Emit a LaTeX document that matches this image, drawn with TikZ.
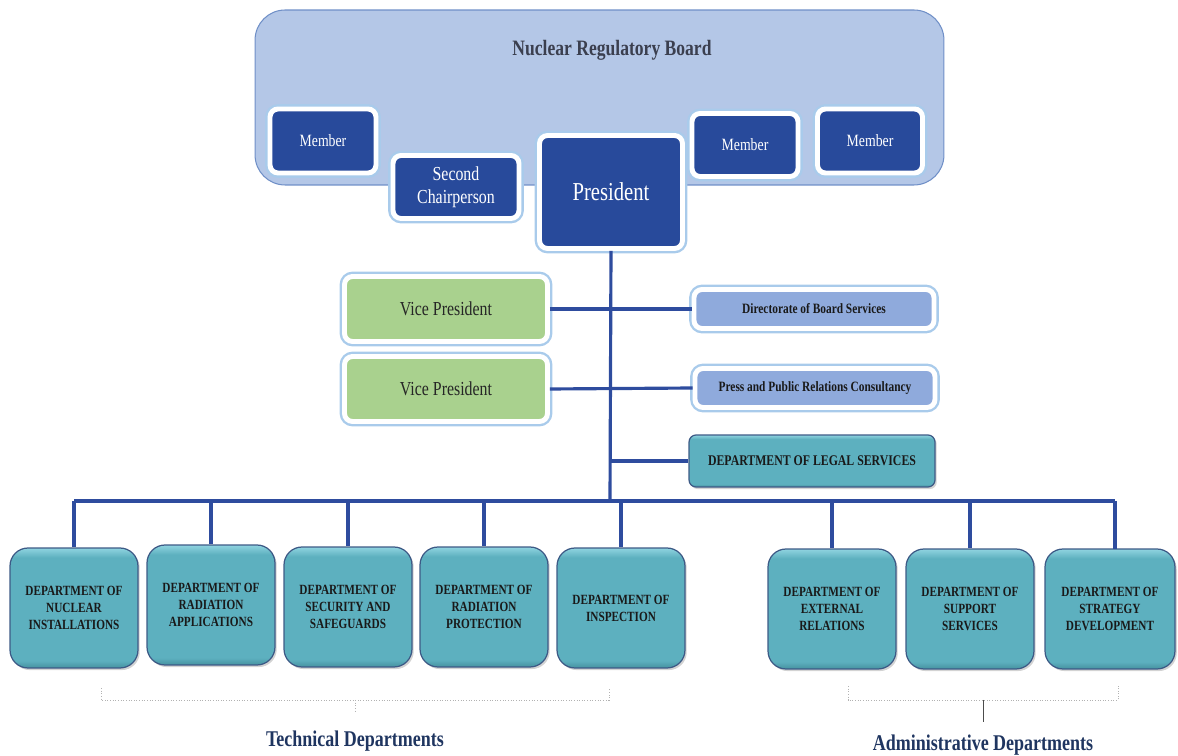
\documentclass[tikz,border=0pt]{standalone}
\usepackage{fontspec}
\setmainfont[FakeStretch=0.8]{Liberation Serif}
\usetikzlibrary{shadows}

\definecolor{boardfill}{HTML}{B4C7E7}
\definecolor{boardline}{HTML}{6F8FC7}
\definecolor{titlegray}{HTML}{3B3F4F}
\definecolor{navybox}{HTML}{284A9B}
\definecolor{glowblue}{HTML}{A9CBEB}
\definecolor{linkblue}{HTML}{2E4C9E}
\definecolor{vpgreen}{HTML}{A9D18E}
\definecolor{dirblue}{HTML}{8FAADC}
\definecolor{tealfill}{HTML}{5DB0BF}
\definecolor{tealtop}{HTML}{90D4E0}
\definecolor{tealbot}{HTML}{45919F}
\definecolor{tealedge}{HTML}{3D5A86}
\definecolor{labelnavy}{HTML}{1F3560}

% flat teal with a light top rim and a dark bottom rim
\pgfdeclareverticalshading{tealbevel}{100bp}{color(0bp)=(tealbot); color(25bp)=(tealbot);
  color(28bp)=(tealfill); color(71bp)=(tealfill); color(75bp)=(tealtop); color(100bp)=(tealtop)}

\begin{document}
\begin{tikzpicture}[x=0.02cm, y=-0.02cm,
    every node/.style={align=center, inner sep=0pt},
    board/.style={draw=boardline, fill=boardfill, line width=0.6pt, rounded corners=0.6cm},
    glowbox/.style={draw=white, line width=2.8pt, rounded corners=0.16cm,
        preaction={draw=glowblue, line width=5.5pt}},
    member/.style={glowbox, fill=navybox, text=white, minimum width=2.12cm, minimum height=1.28cm,
        font=\fontsize{9.8}{12}\selectfont},
    vicebox/.style={glowbox, fill=vpgreen, text=black!85, minimum width=4.06cm, minimum height=1.3cm,
        font=\fontsize{11.3}{13}\selectfont},
    unitbox/.style={glowbox, fill=dirblue, text=black!90, minimum width=4.8cm, minimum height=0.78cm,
        font=\fontsize{8.1}{10}\selectfont\bfseries},
    deptbox/.style={draw=tealedge, line width=0.7pt, rounded corners=0.36cm, shading=tealbevel,
        drop shadow={shadow xshift=1pt, shadow yshift=-1.2pt, opacity=0.35},
        text=black!90, minimum width=2.56cm, minimum height=2.4cm,
        font=\fontsize{8}{9.7}\selectfont\bfseries},
    link/.style={draw=linkblue, line width=1.8pt},
    bracket/.style={draw=gray!60, line width=0.5pt, densely dotted},
    grouplabel/.style={text=labelnavy, font=\fontsize{12.8}{15}\selectfont\bfseries}
  ]
  \useasboundingbox (0,0) rectangle (1178,756);

  % board
  \node [board, minimum width=13.78cm, minimum height=3.5cm] (board) at (599.5,97.5) {};
  \node [text=titlegray, font=\fontsize{12.5}{15}\selectfont\bfseries] (boardtitle) at (612,50) {Nuclear Regulatory Board};

  \node [member] (mem1) at (323,141) {Member};
  \node [member, minimum width=2.52cm, minimum height=1.26cm, font=\fontsize{11.3}{13}\selectfont] (chair2) at (456,187) {Second\\Chairperson};
  \node [member, minimum width=2.86cm, minimum height=2.26cm, font=\fontsize{14.7}{17}\selectfont] (pres) at (611,192) {President};
  \node [member, minimum height=1.26cm] (mem2) at (745,145) {Member};
  \node [member, minimum width=2.1cm] (mem3) at (870,141) {Member};

  % units under the president
  \node [vicebox] (vp1) at (446,309) {Vice President};
  \node [vicebox] (vp2) at (446,389) {Vice President};
  \node [unitbox] (dirsvc) at (814,309) {Directorate of Board Services};
  \node [unitbox] (press) at (815,388) {Press and Public Relations Consultancy};
  \node [deptbox, minimum width=4.92cm, minimum height=1.04cm, rounded corners=0.14cm,
         font=\fontsize{8.4}{10}\selectfont\bfseries] (legal) at (812,461) {DEPARTMENT OF LEGAL SERVICES};

  % departments
  \node [deptbox] (d1) at (74,608) {DEPARTMENT OF\\NUCLEAR\\INSTALLATIONS};
  \node [deptbox] (d2) at (211,605) {DEPARTMENT OF\\RADIATION\\APPLICATIONS};
  \node [deptbox] (d3) at (348,607) {DEPARTMENT OF\\SECURITY AND\\SAFEGUARDS};
  \node [deptbox] (d4) at (484,607) {DEPARTMENT OF\\RADIATION\\PROTECTION};
  \node [deptbox] (d5) at (621,608) {DEPARTMENT OF\\INSPECTION};
  \node [deptbox] (d6) at (832,609) {DEPARTMENT OF\\EXTERNAL\\RELATIONS};
  \node [deptbox] (d7) at (970,609) {DEPARTMENT OF\\SUPPORT\\SERVICES};
  \node [deptbox, minimum width=2.6cm] (d8) at (1110,609) {DEPARTMENT OF\\STRATEGY\\DEVELOPMENT};

  \coordinate (bus) at (610,501);

  % connectors
  \draw [link] (pres.south) -- (bus);
  \draw [link] (vp1.east) -- (dirsvc.west);
  \draw [link] (vp2.east) -- (press.west);
  \draw [link] (legal.west) -- (legal.west -| bus);
  \draw [link] (d1.north |- bus) -- (1115,501);
  \foreach \d in {d1,d2,d3,d4,d5,d6,d7}
    \draw [link] (\d.north |- bus) -- (\d.north);
  \draw [link] (1115,501) -- (1115,549);

  % group brackets
  \draw [bracket] (101,688) -- (101,700) -- (609,700) -- (609,688);
  \draw [bracket] (355,700) -- (355,712);
  \node [grouplabel] (techlabel) at (355,741) {Technical Departments};

  \draw [bracket] (848,686) -- (848,700) -- (1118,700) -- (1118,686);
  \draw [black!70, line width=0.5pt] (983,700) -- (983,722);
  \node [grouplabel] (adminlabel) at (983,745) {Administrative Departments};
\end{tikzpicture}
\end{document}
